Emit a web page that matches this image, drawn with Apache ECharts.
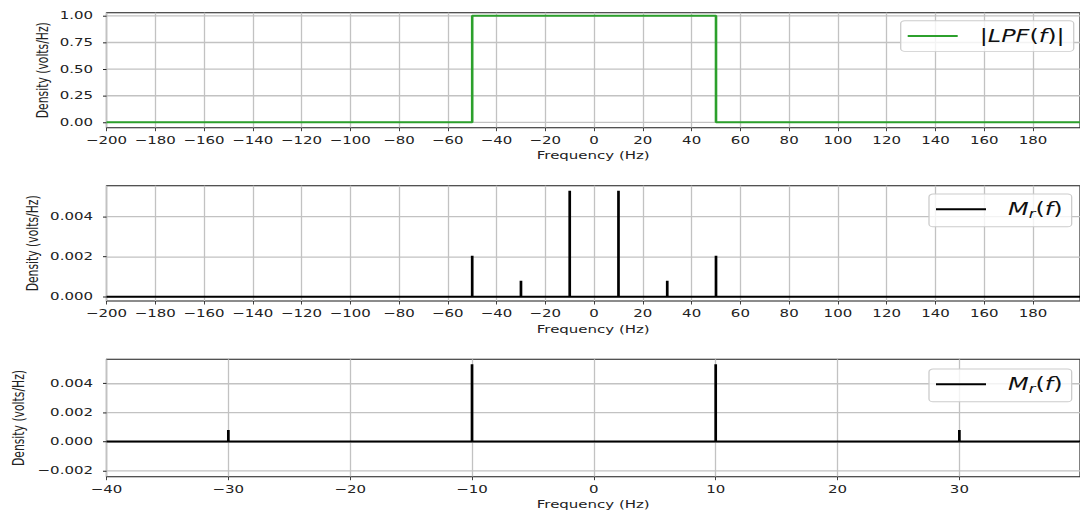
<!DOCTYPE html>
<html>
<head>
<meta charset="utf-8">
<script src="https://cdn.jsdelivr.net/npm/echarts@6/dist/echarts.min.js"></script>
<style>
  html, body { margin: 0; padding: 0; background: #fff; width: 1080px; height: 512px; overflow: hidden; }
  #chart { width: 1080px; transform-origin: 0 0; }
</style>
</head>
<body>
<div id="chart"></div>
<script>
// ---- data ----------------------------------------------------------------
// Low-pass filter magnitude |LPF(f)| (ideal brick wall, cutoff 50 Hz)
const lpfFreq = [-200, -50, -50, 50, 50, 199.3];
const lpfGain = [0, 0, 1, 1, 0, 0];

// Spectral lines of the recovered message M_r(f)
const toneFreq    = [-50, -30, -10, 10, 30, 50];
const toneDensity = [0.00205, 0.0008, 0.0053, 0.0053, 0.0008, 0.00205];

// Axis ticks
const wideFreqTicks = [-200, -180, -160, -140, -120, -100, -80, -60, -40, -20, 0, 20, 40, 60, 80, 100, 120, 140, 160, 180];
const zoomFreqTicks = [-40, -30, -20, -10, 0, 10, 20, 30];
const lpfTicks      = [0, 0.25, 0.5, 0.75, 1.0];
const midDensTicks  = [0, 0.002, 0.004];
const zoomDensTicks = [-0.002, 0, 0.002, 0.004];

// Visible frequency windows
const wideRange = [-200, 199.3];
const zoomRange = [-40, 39.9];

// ---- layout helpers ------------------------------------------------------
// The figure is drawn tall and squeezed vertically, giving wide, flat glyphs.
const SY = 0.72;
const H = 512 / SY;
const R = y => y / SY;
const FONT = 'DejaVu Sans';
const INK = '#222';
const GRID = '#c2c2c2';
const LEFT = 106.5, RIGHT_EDGE = 1082;

const dom = document.getElementById('chart');
dom.style.height = H + 'px';
dom.style.transform = 'scaleY(' + SY + ')';

const minus = s => String(s).replace('-', '\u2212');

// Line trace built from the spectral lines inside a window
function spectrumTrace(lo, hi) {
  const pts = [[lo, 0]];
  toneFreq.forEach((f, i) => {
    if (f >= lo && f <= hi) {
      pts.push([f, 0], [f, toneDensity[i]], [f, 0]);
    }
  });
  pts.push([hi, 0]);
  return pts;
}

// panel frames and tick spans (screen units before squeeze)
const panels = [
  { frame: [12.7, 127.7], inner: [15.7, 122.3], x: wideFreqTicks, xr: wideRange, y: lpfTicks, dec: 2 },
  { frame: [185.7, 301.0], inner: [216.7, 296.7], x: wideFreqTicks, xr: wideRange, y: midDensTicks, dec: 3 },
  { frame: [359.3, 476.7], inner: [383.3, 470.7], x: zoomFreqTicks, xr: zoomRange, y: zoomDensTicks, dec: 3 }
];

const grids = [], xAxes = [], yAxes = [];
panels.forEach(p => {
  grids.push({
    left: LEFT, width: RIGHT_EDGE - LEFT,
    top: R(p.frame[0]), height: R(p.frame[1]) - R(p.frame[0]),
    show: true, borderColor: '#1a1a1a', borderWidth: 1.2, backgroundColor: 'transparent'
  });
  grids.push({
    left: LEFT, width: RIGHT_EDGE - LEFT,
    top: R(p.inner[0]), height: R(p.inner[1]) - R(p.inner[0])
  });
  const gi = grids.length - 2;
  xAxes.push({
    gridIndex: gi, type: 'value', position: 'bottom',
    min: p.xr[0], max: p.xr[1], interval: p.x[1] - p.x[0],
    axisLine: { show: false, onZero: false },
    axisTick: { show: true, inside: false, length: R(3.5), lineStyle: { color: INK, width: 1 } },
    axisLabel: { margin: 10, fontSize: 15, fontFamily: FONT, color: INK, showMaxLabel: false, formatter: v => minus(v) },
    splitLine: { show: true, lineStyle: { color: GRID, width: 1.3 } },
    name: 'Frequency (Hz)', nameLocation: 'middle', nameGap: R(28),
    nameTextStyle: { fontSize: 15, fontFamily: FONT, color: INK, verticalAlign: 'middle' }
  });
  xAxes.push({ gridIndex: gi + 1, type: 'value', show: false, min: p.xr[0], max: p.xr[1], axisLine: { onZero: false } });
  yAxes.push({ gridIndex: gi, type: 'value', show: false, min: 0, max: 1, axisLine: { onZero: false } });
  yAxes.push({
    gridIndex: gi + 1, type: 'value', position: 'left',
    min: p.y[0], max: p.y[p.y.length - 1], interval: p.y[1] - p.y[0],
    axisLine: { show: false, onZero: false },
    axisTick: { show: true, inside: false, length: 3.5, lineStyle: { color: INK, width: 1 / SY } },
    axisLabel: { margin: 13.5, fontSize: 15, fontFamily: FONT, color: INK, formatter: v => minus(Number(v).toFixed(p.dec)) },
    splitLine: { show: true, lineStyle: { color: GRID, width: 1.3 / SY } }
  });
});

const txt = { fontFamily: FONT, fontSize: 24, color: '#111', lineHeight: 30 };
const rich = {
  u: txt,
  i: Object.assign({}, txt, { fontStyle: 'italic' }),
  sub: Object.assign({}, txt, { fontStyle: 'italic', fontSize: 16.5, verticalAlign: 'bottom' }),
  sp: { width: 17 }
};
function legendBox(name, left, top, label) {
  return {
    data: [name], left: left, top: R(top), icon: 'rect',
    itemWidth: 50, itemHeight: R(2),
    padding: [(R(35) - 30) / 2, 9, (R(35) - 30) / 2, 7],
    backgroundColor: 'rgba(255,255,255,0.8)', borderColor: '#cccccc', borderWidth: 1.3, borderRadius: 4,
    selectedMode: false,
    formatter: () => label,
    textStyle: { rich: rich }
  };
}

const yNames = [[42.5, 70.2], [33, 243.3], [19, 418]].map(([x, y]) => ({
  type: 'text', x: x, y: R(y), rotation: Math.PI / 2,
  style: { text: 'Density (volts/Hz)', fontSize: 15, fontFamily: FONT, fill: INK, align: 'center', verticalAlign: 'middle' }
}));

const chart = echarts.init(dom, null, { renderer: 'svg', width: 1080, height: H });
chart.setOption({
  animation: false,
  backgroundColor: '#fff',
  grid: grids,
  xAxis: xAxes,
  yAxis: yAxes,
  legend: [
    legendBox('lpf', 900.7, 20.7, '{sp| }{u||}{i|LPF}{u|(}{i|f}{u|)|}'),
    legendBox('mrWide', 929, 194, '{sp| }{i|M}{sub|r}{u|(}{i|f}{u|)}'),
    legendBox('mrZoom', 929, 369, '{sp| }{i|M}{sub|r}{u|(}{i|f}{u|)}')
  ],
  graphic: yNames,
  series: [
    {
      name: 'lpf', type: 'line', xAxisIndex: 1, yAxisIndex: 1,
      data: lpfFreq.map((f, i) => [f, lpfGain[i]]),
      symbol: 'none', clip: false, color: '#2ca02c',
      lineStyle: { color: '#2ca02c', width: 2.6 }
    },
    {
      name: 'mrWide', type: 'line', xAxisIndex: 3, yAxisIndex: 3,
      data: spectrumTrace(wideRange[0], wideRange[1]),
      symbol: 'none', clip: false, color: '#000',
      lineStyle: { color: '#000', width: 2.7 }
    },
    {
      name: 'mrZoom', type: 'line', xAxisIndex: 5, yAxisIndex: 5,
      data: spectrumTrace(zoomRange[0], zoomRange[1]),
      symbol: 'none', clip: false, color: '#000',
      lineStyle: { color: '#000', width: 2.7 }
    }
  ]
});
</script>
</body>
</html>
